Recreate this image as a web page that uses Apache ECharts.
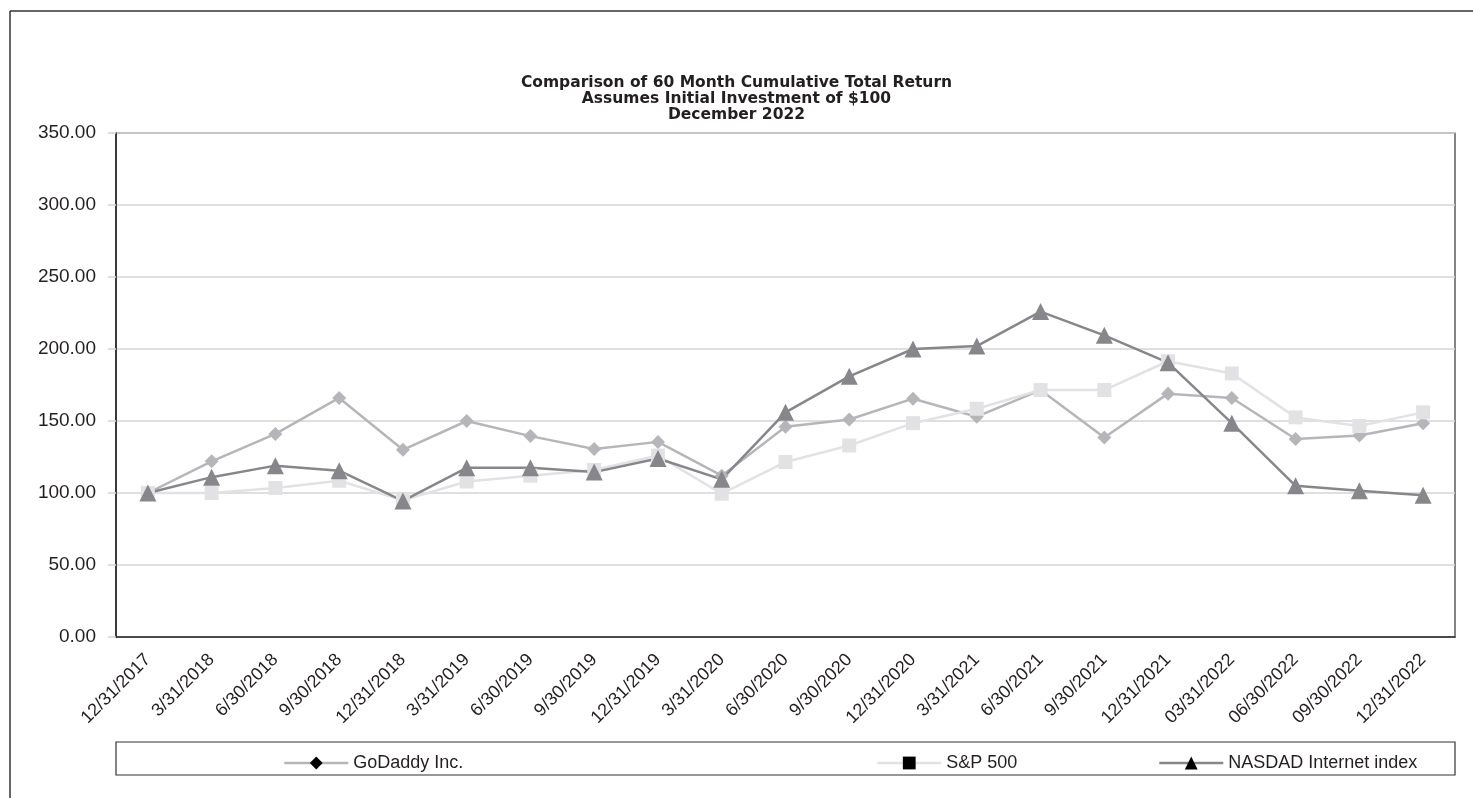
<!DOCTYPE html>
<html>
<head>
<meta charset="utf-8">
<script src="https://cdn.jsdelivr.net/npm/echarts@6/dist/echarts.min.js"></script>
<style>
html,body{margin:0;padding:0;background:#fff;}
#chart{width:1473px;height:798px;}
</style>
</head>
<body>
<div id="chart"></div>
<script>
const categories = ['12/31/2017','3/31/2018','6/30/2018','9/30/2018','12/31/2018','3/31/2019','6/30/2019','9/30/2019','12/31/2019','3/31/2020','6/30/2020','9/30/2020','12/31/2020','3/31/2021','6/30/2021','9/30/2021','12/31/2021','03/31/2022','06/30/2022','09/30/2022','12/31/2022'];
const godaddy = [100, 122, 141, 166, 130, 150, 139.5, 130.5, 135.5, 112, 146, 151, 165.5, 153, 171.5, 138.5, 169, 166, 137.5, 140, 148.5];
const sp500 = [100, 100, 103.5, 108.5, 95, 108, 112, 116, 126, 99.5, 121.5, 133, 148.5, 158.5, 171.5, 171.5, 191.5, 183, 152.5, 146.5, 156];
const nasdaq = [100, 111, 119, 115.5, 94.5, 117.5, 117.5, 114.5, 124, 109.5, 156, 181, 200, 202, 226, 209.5, 190.5, 148.5, 105, 101.5, 98.5];
const titleLines = ['Comparison of 60 Month Cumulative Total Return','Assumes Initial Investment of $100','December 2022'];
const seriesNames = ['GoDaddy Inc.','S&P 500','NASDAD Internet index'];

const FONT = 'Liberation Sans';
const chart = echarts.init(document.getElementById('chart'));
const legendBase = {
  orient:'horizontal', top:749, itemWidth:64, itemHeight:16, itemGap:4,
  textStyle:{fontFamily:FONT, fontSize:18, color:'#231f20'}
};
function legendItem(name){
  return {name:name, itemStyle:{color:'#000'}, lineStyle:{width:2.5}};
}
chart.setOption({
  animation:false,
  title:{
    text: titleLines.join('\n'), left:'center', top:70,
    textStyle:{fontFamily:'DejaVu Sans', fontSize:15.5, fontWeight:'bold', color:'#231f20', lineHeight:16}
  },
  legend:[
    Object.assign({}, legendBase, {left:278, data:[legendItem(seriesNames[0])]}),
    Object.assign({}, legendBase, {left:871, data:[legendItem(seriesNames[1])]}),
    Object.assign({}, legendBase, {left:1153, data:[legendItem(seriesNames[2])]})
  ],
  grid:{left:116, top:133, right:18, bottom:161, show:true, borderColor:'#333', borderWidth:1.2, backgroundColor:'#fff'},
  xAxis:{
    type:'category', data:categories, boundaryGap:true,
    axisLine:{lineStyle:{color:'#222', width:1.5}},
    axisTick:{inside:true, alignWithLabel:true, length:4, lineStyle:{color:'#444'}},
    axisLabel:{rotate:45, margin:20, interval:0, fontFamily:FONT, fontSize:18, color:'#231f20'}
  },
  yAxis:{
    type:'value', min:0, max:350, interval:50,
    axisLine:{show:true, lineStyle:{color:'#222', width:1.5}},
    axisTick:{show:true, length:8, lineStyle:{color:'#d4d4d4', width:1.5}},
    splitLine:{lineStyle:{color:'#d4d4d4', width:1.5}},
    axisLabel:{margin:20, fontFamily:FONT, fontSize:19, color:'#231f20', formatter:v=>v.toFixed(2)}
  },
  series:[
    {name:seriesNames[0], type:'line', data:godaddy, symbol:'diamond', symbolSize:14,
     lineStyle:{color:'#b6b6ba', width:2.5}, itemStyle:{color:'#b6b6ba'}},
    {name:seriesNames[1], type:'line', data:sp500, symbol:'rect', symbolSize:14,
     lineStyle:{color:'#e2e2e4', width:2.5}, itemStyle:{color:'#e2e2e4'}},
    {name:seriesNames[2], type:'line', data:nasdaq, symbol:'triangle', symbolSize:17,
     lineStyle:{color:'#87878b', width:2.5}, itemStyle:{color:'#87878b'}}
  ],
  graphic:[
    {type:'line', shape:{x1:10, y1:11, x2:1473, y2:11}, style:{stroke:'#333', lineWidth:1.5}},
    {type:'line', shape:{x1:10, y1:11, x2:10, y2:798}, style:{stroke:'#333', lineWidth:1.5}},
    {type:'rect', shape:{x:116, y:742, width:1339, height:33}, style:{fill:'none', stroke:'#333', lineWidth:1.2}, z:-1}
  ]
});
</script>
</body>
</html>
